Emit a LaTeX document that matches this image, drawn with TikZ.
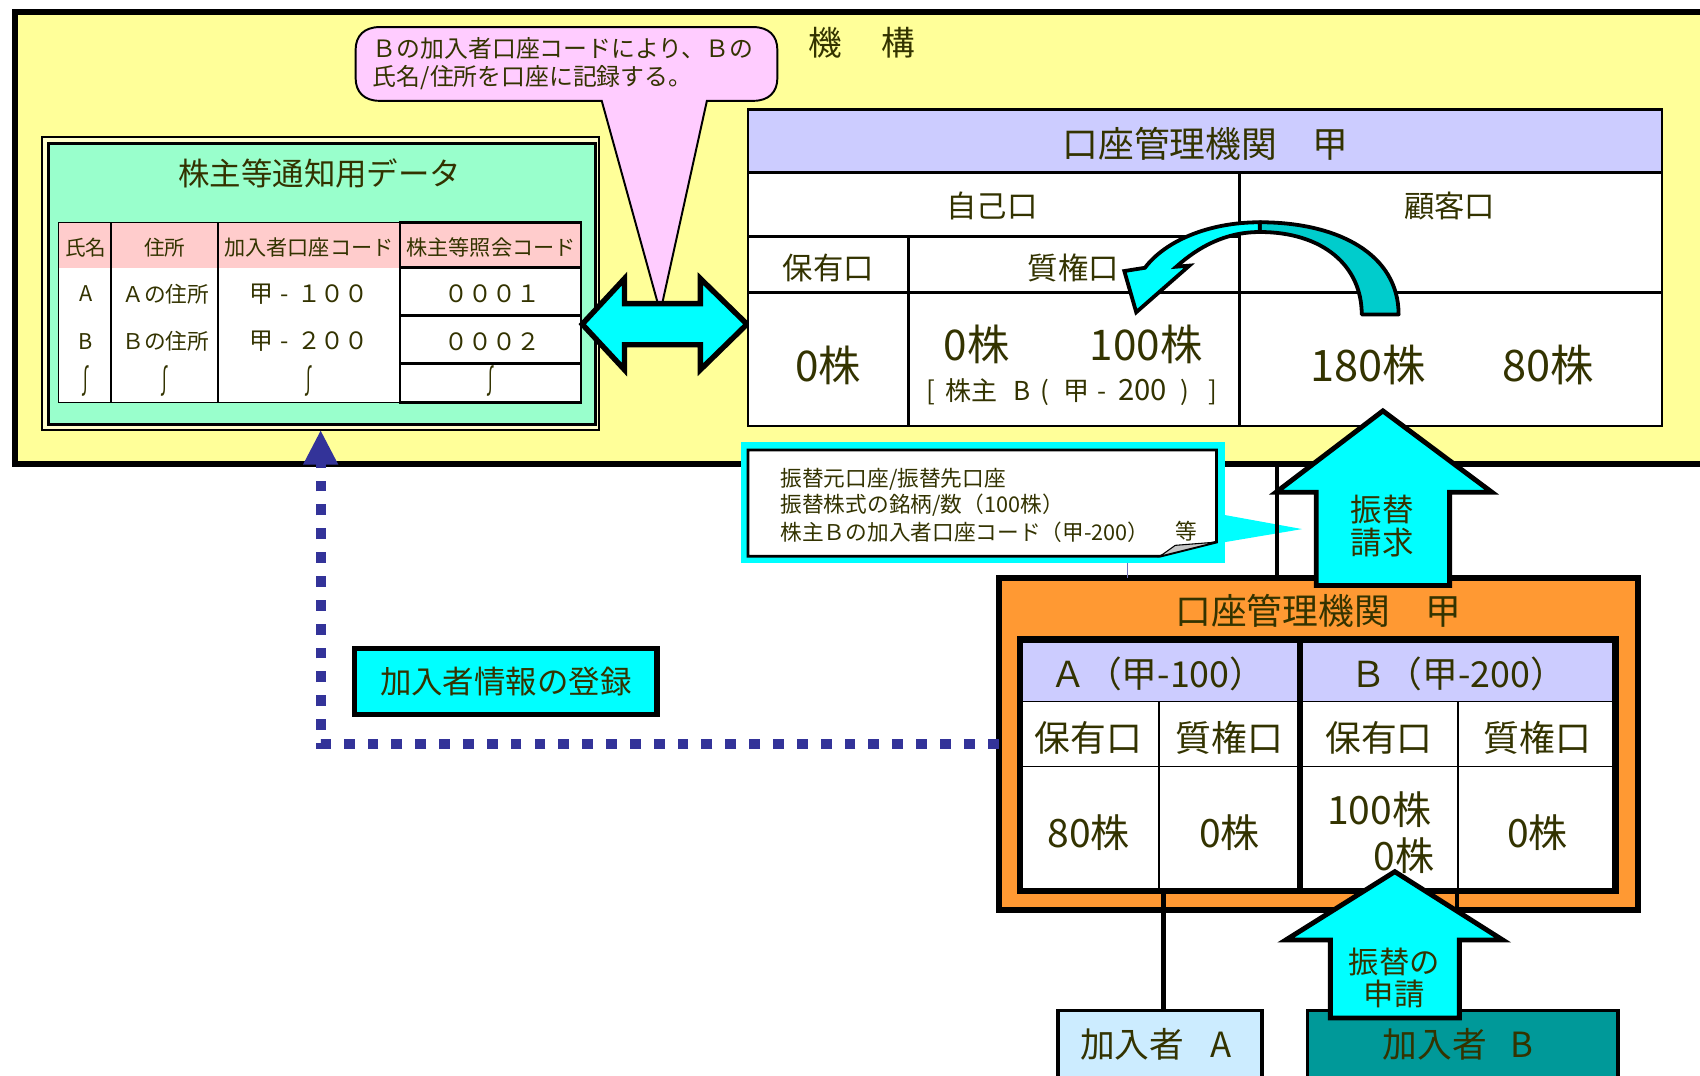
\documentclass[tikz,border=0pt]{standalone}
\usepackage{fontspec}
\usepackage{graphicx}
\setmainfont{Noto Sans CJK JP}
\usetikzlibrary{arrows.meta}
\definecolor{tx}{HTML}{333300}
\definecolor{yel}{HTML}{FFFF99}
\definecolor{pinkc}{HTML}{FFCCFF}
\definecolor{mint}{HTML}{99FFCC}
\definecolor{paleyel}{HTML}{FFFFCC}
\definecolor{hdrpink}{HTML}{FFCCCC}
\definecolor{lav}{HTML}{CCCCFF}
\definecolor{cyanc}{HTML}{00FFFF}
\definecolor{dcyan}{HTML}{00CCCC}
\definecolor{orangec}{HTML}{FF9933}
\definecolor{lblue}{HTML}{CCECFF}
\definecolor{tealc}{HTML}{009999}
\definecolor{dblue}{HTML}{333399}
\newcommand{\fz}[1]{\fontsize{#1pt}{#1pt}\selectfont}
\newcommand{\wave}{\scalebox{0.9}[1.6]{∫}}
\begin{document}
\begin{tikzpicture}[x=1pt,y=-1pt,
  every node/.style={text=tx, inner sep=0pt, outer sep=0pt},
  lbl/.style={font=\fz{#1}},
  tline/.style={line width=2.5pt},
  thinl/.style={line width=1.5pt},
  blockarrow/.style={line width=4.5pt, fill=cyanc, line join=miter},
  dotline/.style={dblue, line width=9pt, dash pattern=on 10pt off 12pt, -{Triangle[length=32pt,width=30pt]}}]
\useasboundingbox (0,0) rectangle (1568,992);
\fill[white] (0,0) rectangle (1568,992);

% ---------- outer frame (機構)
\draw[line width=5pt, fill=yel] (14,11) rectangle (1600,428);
\node[lbl=31] (kikou) at (795,39) {機\hspace{37pt}構};

% ---------- pink callout
\draw[line width=1.8pt, fill=pinkc] (555,93) -- (350,93) .. controls (336,93) and (328,85) .. (328,72) -- (328,46) .. controls (328,33) and (336,25) .. (350,25) -- (695,25) .. controls (709,25) and (717,33) .. (717,46) -- (717,72) .. controls (717,85) and (709,93) .. (695,93) -- (652,93) -- (609,288) -- cycle;
\node[lbl=22, anchor=west] (cl1) at (344,45) {Ｂの加入者口座コードにより、Ｂの};
\node[lbl=22, anchor=west] (cl2) at (344,72) {氏名/住所を口座に記録する。};

% ---------- green data box
\node[draw, line width=2pt, fill=paleyel, minimum width=513.5pt, minimum height=270pt] (greenOuter) at (295.75,261.5) {};
\node[draw, line width=3pt, fill=mint, minimum width=504pt, minimum height=259pt] (green) at (297,262) {};
\node[lbl=29] (gtitle) at (295,160) {株主等通知用データ};
% table
\fill[white] (54,247) rectangle (536,371);
\fill[hdrpink] (54,205) rectangle (536,247);
\draw[line width=1pt] (54,205) rectangle (369,371);
\draw[tline] (102.5,205) -- (102.5,371);
\draw[tline] (201,205) -- (201,371);
\draw[tline] (369,205) rectangle (536,371);
\draw[tline] (369,247) -- (536,247);
\draw[tline] (369,291) -- (536,291);
\draw[tline] (369,335) -- (536,335);
\node[lbl=19] (h1) at (79,228) {氏名};
\node[lbl=19] (h2) at (152,228) {住所};
\node[lbl=19.5] (h3) at (285,228) {加入者口座コード};
\node[lbl=19.5] (h4) at (453,228) {株主等照会コード};
\node[lbl=20] (r1a) at (79,271) {A};
\node[lbl=20] (r1b) at (153,271) {Ａの住所};
\node[lbl=22] (r1c) at (285,271) {甲\makebox[22pt]{-}１００};
\node[lbl=22] (r1d) at (454,271) {０００１};
\node[lbl=20] (r2a) at (79,315) {B};
\node[lbl=20] (r2b) at (153,315) {Ｂの住所};
\node[lbl=22] (r2c) at (285,315) {甲\makebox[22pt]{-}２００};
\node[lbl=22] (r2d) at (454,315) {０００２};
\node[lbl=19] (r3a) at (79,351) {\wave};
\node[lbl=19] (r3b) at (152,351) {\wave};
\node[lbl=19] (r3c) at (285,351) {\wave};
\node[lbl=19] (r3d) at (453,351) {\wave};

% ---------- double arrow
\draw[line width=5pt, fill=cyanc, line join=miter] (537,299) -- (576,257) -- (576,280) -- (646,280) -- (646,257) -- (689,299) -- (646,341) -- (646,318) -- (576,318) -- (576,341) -- cycle;

% ---------- right table (口座管理機関 甲)
\fill[white] (690,159) rectangle (1533,393);
\fill[lav] (690,101) rectangle (1533,159);
\draw[tline] (690,101) rectangle (1533,393);
\draw[tline] (690,159) -- (1533,159);
\draw[tline] (690,218) -- (1143,218);
\draw[tline] (690,270) -- (1533,270);
\draw[tline] (1143,159) -- (1143,393);
\draw[tline] (838,218) -- (838,393);
\node[lbl=33] (t1) at (1112,133) {口座管理機関　甲};
\node[lbl=28] (t2) at (915,190) {自己口};
\node[lbl=28] (t3) at (1337,190) {顧客口};
\node[lbl=28] (t4) at (764,247) {保有口};
\node[lbl=28] (t5) at (990,247) {質権口};
\node[lbl=39] (t6) at (764,337) {0株};
\node[lbl=39] (t7) at (901,318) {0株};
\node[lbl=39] (t8) at (1057,318) {100株};
\node[lbl=24, anchor=west] (t9) at (855,362) {[\hspace{9pt}株主\hspace{15pt}B\hspace{9pt}(\hspace{13pt}甲\hspace{7pt}-\hspace{11pt}{\fz{27}200}\hspace{13pt})\hspace{17pt}]};
\node[lbl=40] (t10) at (1262,337) {180株};
\node[lbl=40] (t11) at (1428,337) {80株};

% ---------- curved arrow
\draw[line width=3.5pt, fill=dcyan, line join=round] (1290,290) .. controls (1290,235) and (1235,205) .. (1162,205) -- (1162,214) .. controls (1220,214) and (1256,245) .. (1256,290) -- cycle;
\draw[line width=3.5pt, fill=cyanc, line join=miter] (1162,205) .. controls (1115,205) and (1075,222) .. (1056,247) -- (1037,250) -- (1048,288) -- (1097,245) -- (1085,246) .. controls (1105,228) and (1130,214) .. (1162,214) -- cycle;

% ---------- note callout
\fill[cyanc] (683,408) rectangle (1130,519);
\fill[cyanc] (1124,474) -- (1201,488) -- (1124,501) -- cycle;
\draw[line width=2.5pt, fill=white] (690,415) -- (1122,415) -- (1122,500) -- (1070,513) -- (690,513) -- cycle;
\draw[line width=1pt, fill=gray!45] (1070,513) -- (1122,500) -- (1084,503) -- cycle;
\node[lbl=20, anchor=west] (n1) at (720,442) {振替元口座/振替先口座};
\node[lbl=20, anchor=west] (n2) at (720,466) {振替株式の銘柄/数（100株）};
\node[lbl=20, anchor=west] (n3) at (720,491) {株主Ｂの加入者口座コード（甲-200）};
\node[lbl=20] (n4) at (1094,490) {等};
\coordinate (noteFoot) at (1040,519);

% ---------- orange box
\node[draw, line width=5.5pt, fill=orangec, minimum width=590pt, minimum height=306pt] (orange) at (1216,686) {};
\draw[line width=3.5pt] (1178,428) -- (orange.north -| 1178,0);
\draw[line width=1pt, dblue!70] (noteFoot) -- (orange.north -| noteFoot);
\node[lbl=33] (o1) at (1216,563) {口座管理機関　甲};
\fill[white] (941,647) rectangle (1490,822);
\fill[lav] (941,590) rectangle (1490,647);
\draw[thinl] (941,647) -- (1490,647);
\draw[thinl] (941,707) -- (1490,707);
\draw[thinl] (1069,647) -- (1069,822);
\draw[thinl] (1345,647) -- (1345,822);
\draw[line width=5pt] (1199,590) -- (1199,822);
\draw[line width=6pt] (941,590) rectangle (1490,822);
\coordinate (itabA) at (1073,822);
\coordinate (itabB) at (1344,822);
\node[lbl=33] (o2) at (1068,622) {Ａ（甲-100）};
\node[lbl=33] (o3) at (1345,622) {Ｂ（甲-200）};
\node[lbl=33] (o4) at (1004,681) {保有口};
\node[lbl=33] (o5) at (1134,681) {質権口};
\node[lbl=33] (o6) at (1272,681) {保有口};
\node[lbl=33] (o7) at (1418,681) {質権口};
\node[lbl=36] (o8) at (1004,768) {80株};
\node[lbl=36] (o9) at (1134,768) {0株};
\node[lbl=36] (o10) at (1272,747) {100株};
\node[lbl=36] (o11) at (1295,789) {0株};
\node[lbl=36] (o12) at (1418,768) {0株};

% ---------- 振替請求 arrow
\draw[blockarrow] (1214,540) -- (1214,454) -- (1177,454) -- (1275.5,379) -- (1376,454) -- (1337,454) -- (1337,540) -- cycle;
\node[lbl=29] (fk1) at (1275,470) {振替};
\node[lbl=29] (fk2) at (1275,500) {請求};

% ---------- 加入者 boxes
\node[draw, line width=3.5pt, fill=lblue, minimum width=188pt, minimum height=90pt, anchor=north west] (kA) at (976,932) {};
\node[draw, line width=3.5pt, fill=tealc, minimum width=286pt, minimum height=90pt, anchor=north west] (kB) at (1206,932) {};
\node[lbl=32] (kAt) at (1066,963) {加入者\hspace{24pt}A};
\node[lbl=32] (kBt) at (1345,963) {加入者\hspace{22pt}B};
\draw[line width=4pt] (itabA) -- (kA.north -| itabA);
\draw[line width=4pt] (itabB) -- (kB.north -| itabB);

% ---------- 振替の申請 arrow
\draw[blockarrow] (1227,939) -- (1227,867) -- (1186,867) -- (1286.5,804) -- (1386,867) -- (1346,867) -- (1346,939) -- cycle;
\node[lbl=28] (fs1) at (1286,887) {振替の};
\node[lbl=28] (fs2) at (1286,917) {申請};

% ---------- registration
\draw[dotline] (orange.west) -| (greenOuter.south);
\node[draw, line width=5pt, fill=cyanc, minimum width=279pt, minimum height=61pt, lbl=29] (reg) at (466.5,628.5) {加入者情報の登録};
\end{tikzpicture}
\end{document}
